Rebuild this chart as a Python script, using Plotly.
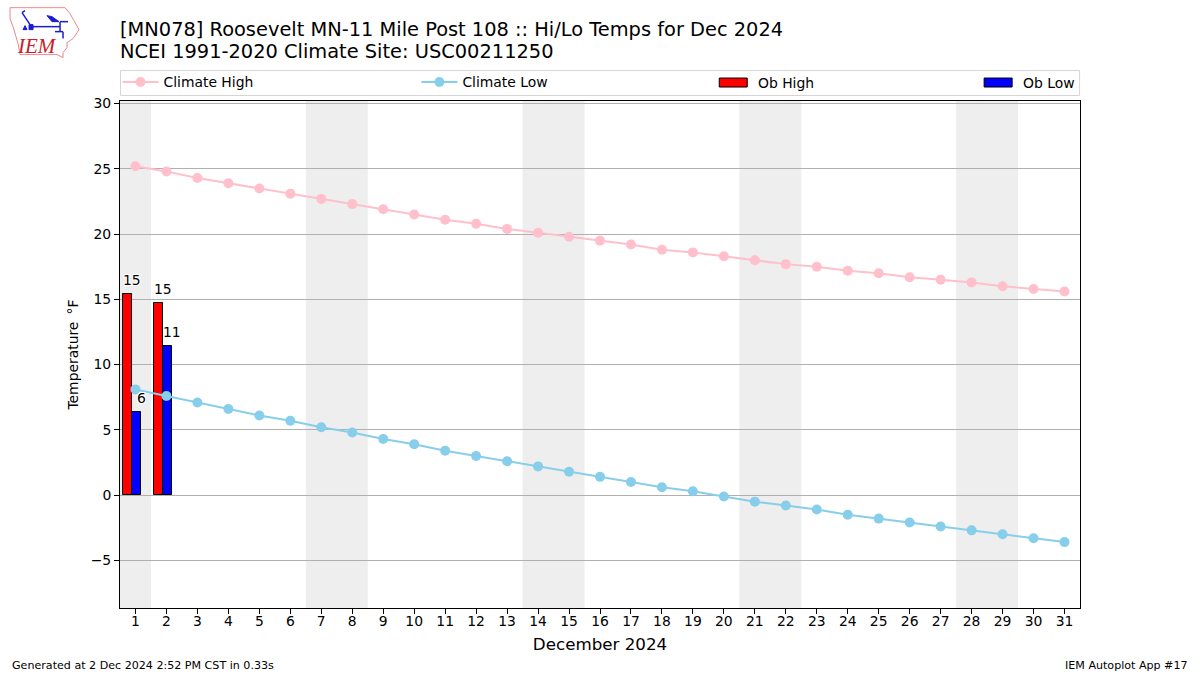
import plotly.graph_objects as go

days = list(range(1, 32))
climate_high = [25.2,24.8,24.3,23.9,23.5,23.1,22.7,22.3,21.9,21.5,21.1,20.8,20.4,20.1,19.8,19.5,19.2,18.8,18.6,18.3,18.0,17.7,17.5,17.2,17.0,16.7,16.5,16.3,16.0,15.8,15.6]
climate_low = [8.1,7.6,7.1,6.6,6.1,5.7,5.2,4.8,4.3,3.9,3.4,3.0,2.6,2.2,1.8,1.4,1.0,0.6,0.3,-0.1,-0.5,-0.8,-1.1,-1.5,-1.8,-2.1,-2.4,-2.7,-3.0,-3.3,-3.6]
ob_days = [1, 2]
ob_high = [15.4, 14.7]
ob_low = [6.4, 11.4]
ob_high_labels = ["15", "15"]
ob_low_labels = ["6", "11"]
weekends = [(0.5, 1.5), (6.5, 8.5), (13.5, 15.5), (20.5, 22.5), (27.5, 29.5)]
y_ticks = [-5, 0, 5, 10, 15, 20, 25, 30]

FONT = "DejaVu Sans"
W, H = 1200, 675
L, R, T, B = 120, 1080.4, 100.5, 608.5
def px(x): return (x - L) / (R - L)
def py(y): return (B - y) / (B - T)

fig = go.Figure()
fig.add_bar(x=[d - 0.25 for d in ob_days], y=ob_high, width=0.29, name="Ob High",
            marker=dict(color="red", line=dict(color="black", width=1)), showlegend=False)
fig.add_bar(x=[d + 0.04 for d in ob_days], y=ob_low, width=0.29, name="Ob Low",
            marker=dict(color="blue", line=dict(color="black", width=1)), showlegend=False)
fig.add_scatter(x=days, y=climate_high, mode="lines+markers", name="Climate High",
                line=dict(color="pink", width=2), marker=dict(color="pink", size=10), legend="legend")
fig.add_scatter(x=days, y=climate_low, mode="lines+markers", name="Climate Low",
                line=dict(color="skyblue", width=2), marker=dict(color="skyblue", size=10), legend="legend2")

shapes = [dict(type="rect", xref="x", yref="paper", x0=a, x1=b, y0=0, y1=1,
               fillcolor="#eeeeee", line_width=0, layer="below") for a, b in weekends]
shapes.append(dict(type="rect", xref="paper", yref="paper", x0=px(120.5), x1=px(1080), y0=py(95), y1=py(70),
                   line=dict(color="#d5d5d5", width=1), fillcolor="white", layer="below"))
for x0, col in [(719.5, "red"), (984.5, "blue")]:
    shapes.append(dict(type="rect", xref="paper", yref="paper", x0=px(x0), x1=px(x0 + 28), y0=py(86.5), y1=py(77.5),
                       line=dict(color="black", width=1), fillcolor=col, layer="above"))

# IEM logo
def pth(points, close=True):
    s = "M" + " L".join(f"{px(a):.5f},{py(b):.5f}" for a, b in points)
    return s + (" Z" if close else "")
def logo_path(points, close=False, **kw):
    shapes.append(dict(type="path", xref="paper", yref="paper", path=pth(points, close), layer="above", **kw))
iowa = [(10,7),(65,7),(70,13),(74,20),(79,29),(73,38),(67,42),(67,47),(63,52),(63,57),(57,54),(20,54),(18,43),(13,26),(10,18)]
logo_path(iowa, True, line=dict(color="#e58a8f", width=1))
BLUE = "#1c1ccf"
for seg in [[(31,26),(60,26)], [(60,21),(60,31)], [(55,31),(63,31)], [(63,31),(63,38)], [(60,21),(68,21)], [(30,24),(22,12)], [(22,12),(25,10)]]:
    logo_path(seg, line=dict(color=BLUE, width=1.5))
logo_path([(47,15),(52,16),(59,21),(52,21)], True, line=dict(color=BLUE, width=1), fillcolor=BLUE)
logo_path([(29,24),(33,24),(33,29),(29,29)], True, line=dict(color=BLUE, width=1), fillcolor=BLUE)
logo_path([(23,29),(25,25),(27,29)], True, line=dict(color=BLUE, width=1), fillcolor=BLUE)

ann = []
def text(x, y, s, size, xanchor="left", yanchor="middle"):
    ann.append(dict(xref="paper", yref="paper", x=px(x), y=py(y), text=s, showarrow=False, xanchor=xanchor,
                    yanchor=yanchor, font=dict(family=FONT, size=size, color="black")))
text(118, 29, "[MN078] Roosevelt MN-11 Mile Post 108 :: Hi/Lo Temps for Dec 2024", 19.4)
text(118, 51, "NCEI 1991-2020 Climate Site: USC00211250", 19.4)
text(756, 82, "Ob High", 13.9)
text(1021, 82, "Ob Low", 13.9)
text(10, 666, "Generated at 2 Dec 2024 2:52 PM CST in 0.33s", 11.1)
text(1190, 666, "IEM Autoplot App #17", 11.1, xanchor="right")
ann.append(dict(xref="paper", yref="paper", x=px(37), y=py(45), text="<i>IEM</i>", showarrow=False,
                xanchor="center", yanchor="middle", font=dict(family="Liberation Serif", size=21, color="#c8202a")))

# observation value labels, 14 px above each bar
shadow = "-1px -1px 0 white,1px -1px 0 white,-1px 1px 0 white,1px 1px 0 white"
for offset, vals, labels in [(-0.115, ob_high, ob_high_labels), (0.19, ob_low, ob_low_labels)]:
    for d, v, s in zip(ob_days, vals, labels):
        ann.append(dict(x=d + offset, y=v, xref="x", yref="y", text=s, showarrow=False, yshift=14,
                        xanchor="center", yanchor="middle",
                        font=dict(family=FONT, size=13.9, color="black", shadow=shadow)))

def leg(x):
    return dict(x=px(x), y=py(82), xanchor="left", yanchor="middle", orientation="h", bgcolor="rgba(0,0,0,0)", itemwidth=36,
                borderwidth=0, font=dict(family=FONT, size=13.9, color="black"), itemclick=False, itemdoubleclick=False)

fig.update_layout(
    width=W, height=H, autosize=False, paper_bgcolor="white", plot_bgcolor="white",
    margin=dict(l=L, r=W - R, t=T, b=H - B), barmode="overlay", font=dict(family=FONT, size=13.9, color="black"),
    shapes=shapes, annotations=ann, legend=leg(117.5), legend2=leg(416.5), bargap=0,
    xaxis=dict(range=[0.5, 31.5], tickmode="array", tickvals=days, ticktext=[str(d) for d in days], ticks="outside",
               ticklen=5, tickwidth=1, tickcolor="black", showgrid=False, zeroline=False, showline=True, mirror=True,
               linecolor="black", linewidth=1, tickfont=dict(size=13.9), ticklabelstandoff=-5,
               title=dict(text="December 2024", font=dict(size=16.7), standoff=10)),
    yaxis=dict(range=[-8.65, 30.2], tickmode="array", tickvals=y_ticks, ticktext=[str(v).replace("-", "\u2212") for v in y_ticks],
               ticks="outside", ticklen=5, tickwidth=1, tickcolor="black", showgrid=True, gridcolor="#b0b0b0", gridwidth=1,
               zeroline=False, showline=True, mirror=True, linecolor="black", linewidth=1, tickfont=dict(size=13.9),
               title=dict(text="Temperature \u2009\u00b0F", font=dict(size=13.9), standoff=8)),
)
fig.write_html("out.html", post_script="document.body.style.margin='0';", config=dict(displayModeBar=False))
